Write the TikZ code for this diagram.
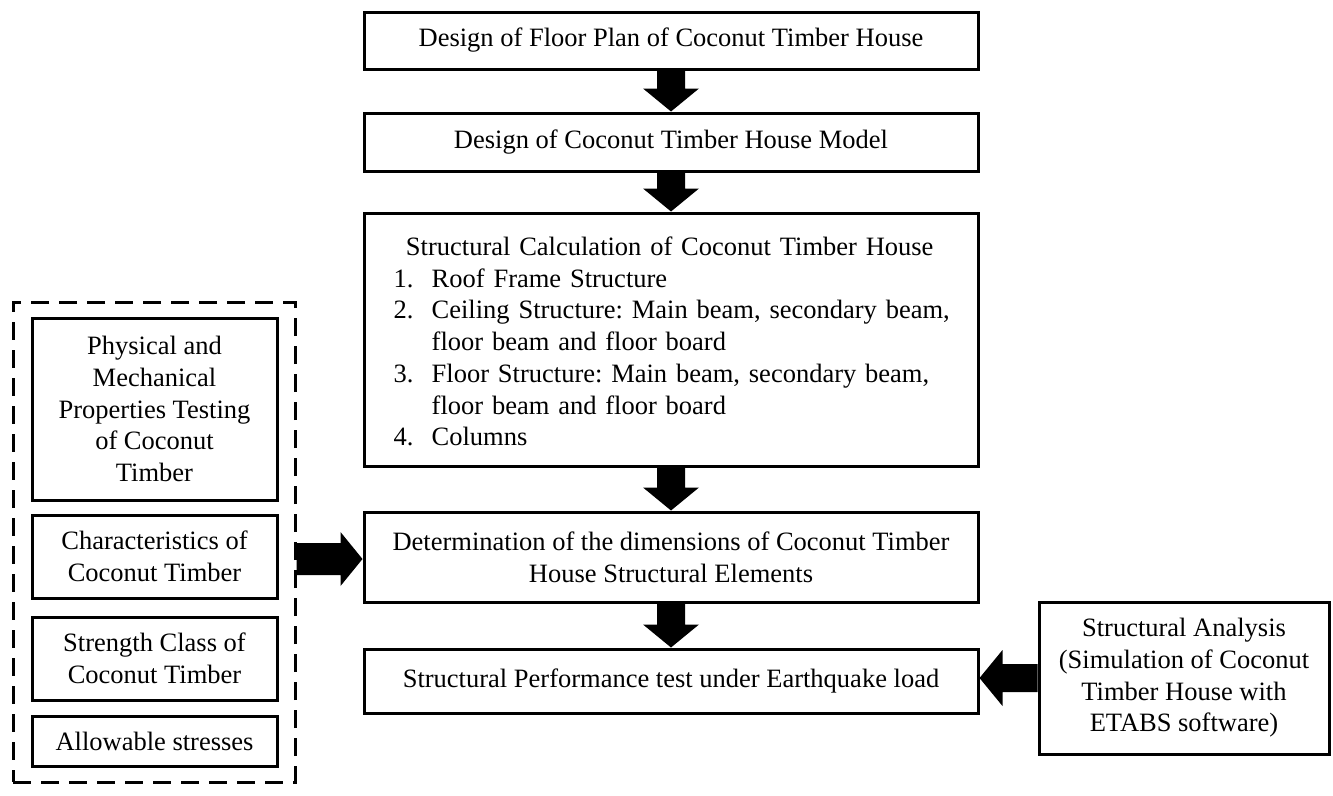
\documentclass[tikz,border=0pt]{standalone}
\usepackage{fontspec}
\setmainfont{Liberation Serif}
\usetikzlibrary{calc}
\newcommand\myvarrow[2]{%
  \fill ($(#1.south)+(-14,0)$) -- ($(#2.north)+(-14,-23)$) -- ($(#2.north)+(-28,-23)$) -- (#2.north)
     -- ($(#2.north)+(28,-23)$) -- ($(#2.north)+(14,-23)$) -- ($(#1.south)+(14,0)$) -- cycle;}
\begin{document}
\begin{tikzpicture}[x=1pt,y=-1pt,
  txt/.style={inner sep=0pt, font=\fontsize{26.5}{31.7}\selectfont\frenchspacing},
  box/.style={txt, draw, line width=3pt, align=center},
  mainbox/.style={box, minimum width=614pt},
  leftbox/.style={box, minimum width=245pt},
  dashbox/.style={draw, line width=3pt, dash pattern=on 18pt off 10pt, inner sep=0pt}]
\useasboundingbox (0,0) rectangle (1333,795);
% main column
\node[mainbox, minimum height=57pt] (b1) at (671,40.5) {Design of Floor Plan of Coconut Timber House};
\node[mainbox, minimum height=58pt] (b2) at (671,142) {Design of Coconut Timber House Model};
\node[mainbox, minimum height=253pt] (b3) at (671,339.5) {};
\node[txt, text width=575pt, align=left, anchor=west] (b3t) at ($(b3.west)+(31,2)$) {%
  \makebox[552pt][c]{Structural Calculation of Coconut Timber House}\par
  \makebox[38pt][l]{1.}Roof Frame Structure\par
  \makebox[38pt][l]{2.}Ceiling Structure: Main beam, secondary beam,\par
  \hspace*{38pt}floor beam and floor board\par
  \makebox[38pt][l]{3.}Floor Structure: Main beam, secondary beam,\par
  \hspace*{38pt}floor beam and floor board\par
  \makebox[38pt][l]{4.}Columns\par};
\node[mainbox, minimum height=90pt] (b4) at (671,557) {Determination of the dimensions of Coconut Timber\\House Structural Elements};
\node[mainbox, minimum height=64pt] (b5) at (671,681) {Structural Performance test under Earthquake load};
% left group
\node[dashbox, minimum width=282pt, minimum height=480pt] (dash) at (154,542) {};
\node[leftbox, minimum height=182pt] (l1) at (154.5,409) {Physical and\\Mechanical\\Properties Testing\\of Coconut\\Timber};
\node[leftbox, minimum height=83pt] (l2) at (154.5,556.5) {Characteristics of\\Coconut Timber};
\node[leftbox, minimum height=83pt] (l3) at (154.5,658.5) {Strength Class of\\Coconut Timber};
\node[leftbox, minimum height=50pt] (l4) at (154.5,741) {Allowable stresses};
% right box
\node[box, minimum width=290pt, minimum height=152pt] (r) at (1184,678) {Structural Analysis\\(Simulation of Coconut\\Timber House with\\ETABS software)};
% vertical arrows
\myvarrow{b1}{b2}
\myvarrow{b2}{b3}
\myvarrow{b3}{b4}
\myvarrow{b4}{b5}
% left arrow
\coordinate (ls) at ($(dash.east |- b4.west)+(0,2)$);
\coordinate (le) at ($(b4.west)+(0,2)$);
\fill ($(ls)+(0,-16)$) -- ($(le)+(-22,-16)$) -- ($(le)+(-22,-27)$) -- (le) -- ($(le)+(-22,27)$) -- ($(le)+(-22,16)$) -- ($(ls)+(0,16)$) -- cycle;
% right arrow
\coordinate (re) at (b5.east |- r.west);
\fill ($(r.west)+(0,-14)$) -- ($(re)+(23,-14)$) -- ($(re)+(23,-28)$) -- (re) -- ($(re)+(23,28)$) -- ($(re)+(23,14)$) -- ($(r.west)+(0,14)$) -- cycle;
\end{tikzpicture}
\end{document}
